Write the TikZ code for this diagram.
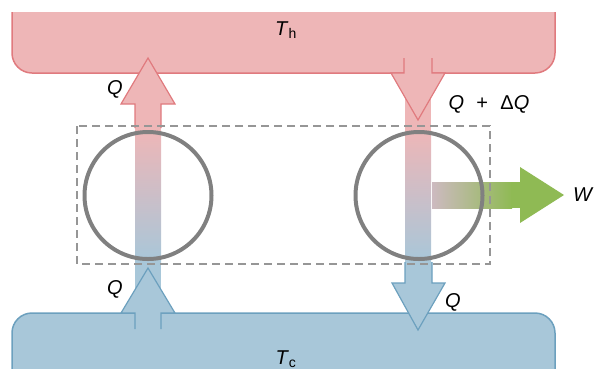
\documentclass[tikz,border=0pt]{standalone}
\usepackage{fontspec}
\setmainfont{Liberation Sans}
\usetikzlibrary{positioning,calc}
\definecolor{hotfill}{RGB}{238,182,183}
\definecolor{hotline}{RGB}{224,122,126}
\definecolor{coldfill}{RGB}{168,199,217}
\definecolor{coldline}{RGB}{108,160,190}
\definecolor{workfill}{RGB}{143,186,84}
\definecolor{midfill}{RGB}{205,186,192}
\definecolor{engline}{RGB}{128,128,128}
\definecolor{boxline}{RGB}{150,150,150}
\tikzset{hotres/.style={fill=hotfill,draw=hotline,line width=1.5pt,rounded corners=20pt}  }
\tikzset{coldres/.style={fill=coldfill,draw=coldline,line width=1.5pt,rounded corners=20pt}  }
\tikzset{hothead/.style={fill=hotfill,draw=hotline,line width=1.2pt}  }
\tikzset{coldhead/.style={fill=coldfill,draw=coldline,line width=1.2pt}  }
\tikzset{engine/.style={draw=engline,circle,line width=4pt,minimum size=127pt,inner sep=0pt}  }
\tikzset{sysbox/.style={draw=boxline,line width=2pt,dash pattern=on 8pt off 5pt}  }
\tikzset{lbl/.style={font=\fontsize{20}{22}\selectfont,inner sep=0pt}  }

\begin{document}
\begin{tikzpicture}[x=1pt,y=-1pt]
\clip (0,0) rectangle (596,368);

  % reservoirs
\begin{scope}
  \clip (0,12) rectangle (596,368);
  \draw[hotres] (12,-40) rectangle (555,73);
\end{scope}
\draw[coldres] (12,313) rectangle (555,420);
\node[lbl] (Th) at (286,30) {\textit{T}\textsubscript{h}};
\node[lbl] (Tc) at (286,359) {\textit{T}\textsubscript{c}};

  % shafts through the two cycles
\foreach \xc/\ya/\yb in {148/100/313, 418/73/283}
{
  \fill[hotfill] (\xc-13,\ya) rectangle (\xc+13,130);
  \shade[top color=hotfill,bottom color=coldfill] (\xc-13,130) rectangle (\xc+13,262);
  \fill[coldfill] (\xc-13,262) rectangle (\xc+13,\yb);
}

  % work output
\shade[left color=midfill,right color=workfill] (432,182) rectangle (512,208);
\fill[workfill] (511,182) rectangle (520,208);
\fill[workfill] (520,167) -- (564,195) -- (520,223) -- cycle;

  % arrow heads
\filldraw[hothead] (135,128) -- (135,104) -- (121,104) -- (148,58) -- (175,104) -- (161,104) -- (161,128);
\filldraw[hothead] (404,58) -- (404,73) -- (391,73) -- (418,120) -- (445,73) -- (432,73) -- (432,58);
\filldraw[coldhead] (135,329) -- (135,313) -- (121,313) -- (148,268) -- (175,313) -- (161,313) -- (161,329);
\filldraw[coldhead] (405,262) -- (405,283) -- (392,283) -- (418,330) -- (445,283) -- (432,283) -- (432,262);

  % the two cycles and the system
\node[engine] (pump) at (148,195.5) {};
\node[engine] (eng) at (419,195.5) {};
\draw[sysbox] (77,126) rectangle (490,264);

\node[lbl] (Qh) at (115,89) {\textit{Q}};
\node[lbl] (Qdq) at (489,104) {\textit{Q}\,\, + \,\,Δ\textit{Q}};
\node[lbl] (Qc) at (115,289) {\textit{Q}};
\node[lbl] (Qout) at (453,302) {\textit{Q}};
\node[lbl,anchor=west] (W) at (573,195) {\textit{W}};
\end{tikzpicture}
\end{document}
